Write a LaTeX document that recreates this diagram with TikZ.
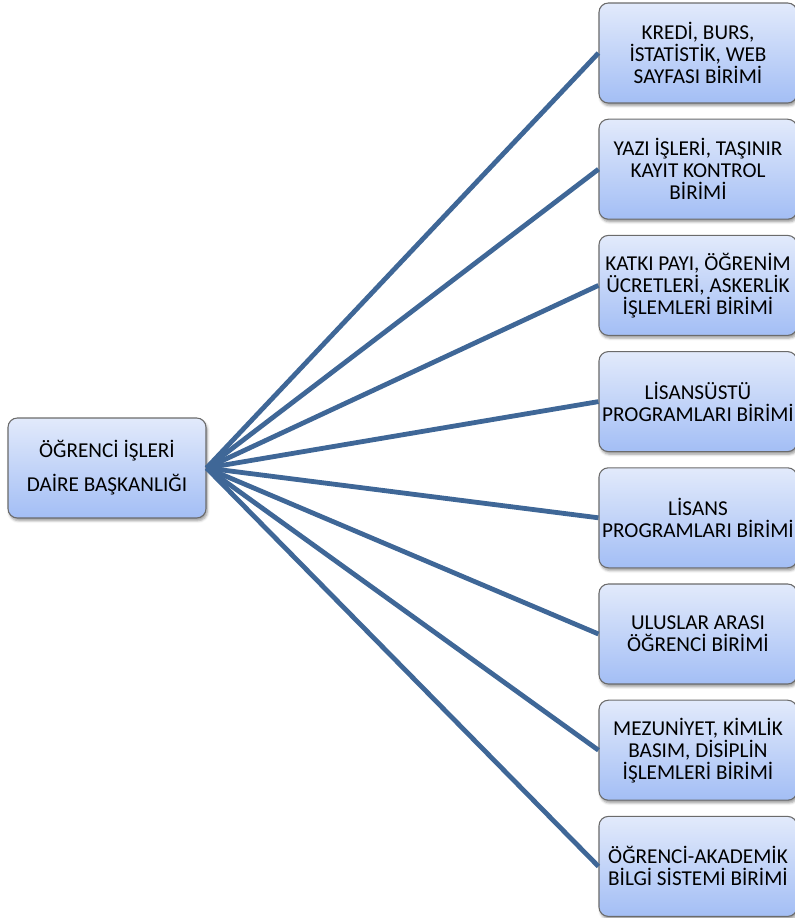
\documentclass[tikz,border=0pt]{standalone}
\usepackage{fontspec}
\setmainfont{Carlito}
\usepackage{tikz}
\usetikzlibrary{positioning, calc, shadows.blur}

\definecolor{boxtop}{HTML}{E2EAFB}
\definecolor{boxbot}{HTML}{A3BEF5}
\definecolor{boxline}{HTML}{6B6B6B}
\definecolor{linkblue}{HTML}{3F6797}

\tikzset{
	birim/.style={draw=boxline, line width=0.8pt, rounded corners=7pt,
		top color=boxtop, bottom color=boxbot,
		minimum width=148.5pt, minimum height=75pt, inner sep=0pt, align=center,
		font=\fontsize{15.9}{16.5}\selectfont,
		blur shadow={shadow xshift=1pt, shadow yshift=-2pt, shadow blur steps=4, shadow opacity=40}},
	baskanlik/.style={birim, font=\fontsize{15.9}{25.5}\selectfont},
	baglanti/.style={draw=linkblue, line width=3.6pt}
}

\begin{document}
\begin{tikzpicture}[x=0.75pt, y=-0.75pt]
	\useasboundingbox (0,0) rectangle (795,918);

	\node[baskanlik] (daire) at (107,468) {ÖĞRENCİ İŞLERİ\\DAİRE BAŞKANLIĞI};

	\foreach \metin [count=\i] in {
		{KREDİ, BURS,\\İSTATİSTİK, WEB\\SAYFASI BİRİMİ},
		{YAZI İŞLERİ, TAŞINIR\\KAYIT KONTROL\\BİRİMİ},
		{KATKI PAYI, ÖĞRENİM\\ÜCRETLERİ, ASKERLİK\\İŞLEMLERİ BİRİMİ},
		{LİSANSÜSTÜ\\PROGRAMLARI BİRİMİ},
		{LİSANS\\PROGRAMLARI BİRİMİ},
		{ULUSLAR ARASI\\ÖĞRENCİ BİRİMİ},
		{MEZUNİYET, KİMLİK\\BASIM, DİSİPLİN\\İŞLEMLERİ BİRİMİ},
		{ÖĞRENCİ-AKADEMİK\\BİLGİ SİSTEMİ BİRİMİ}}
	{
		\node[birim] (b\i) at (698,{53+116.2*(\i-1)}) {\metin};
		\draw[baglanti] (daire.east) -- (b\i.west);
	}
\end{tikzpicture}
\end{document}
